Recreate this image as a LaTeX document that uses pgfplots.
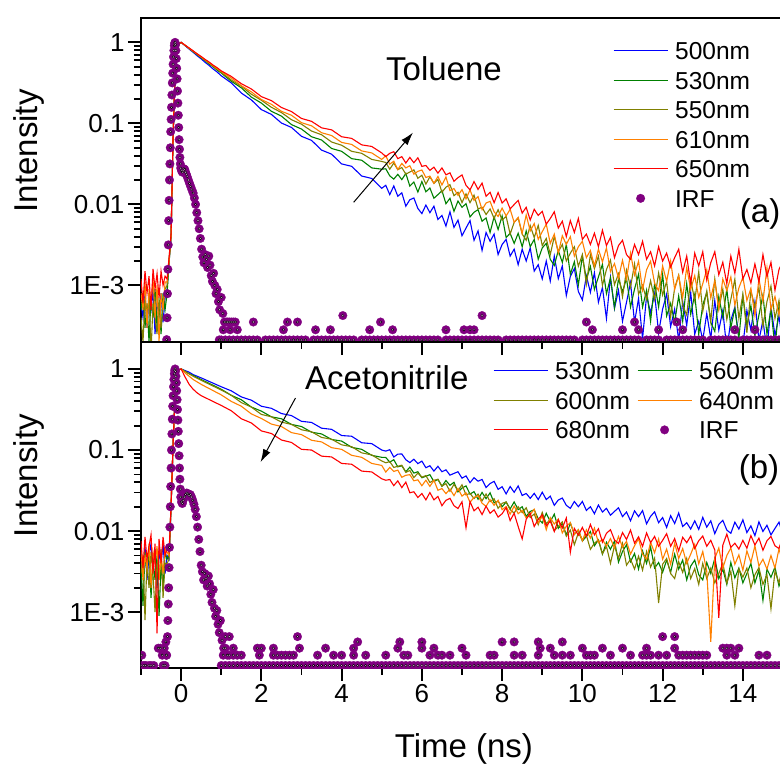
\documentclass[border=0pt]{standalone}
\usepackage{fontspec}
\setmainfont{Liberation Sans}
\usepackage{pgfplots}
\usepackage{pgfplotstable}
\pgfplotsset{compat=1.18}
\usetikzlibrary{plotmarks,arrows.meta}

\definecolor{cblue}{RGB}{0,0,255}
\definecolor{cgreen}{RGB}{0,128,0}
\definecolor{colive}{RGB}{128,128,0}
\definecolor{corange}{RGB}{255,128,0}
\definecolor{cred}{RGB}{255,0,0}
\definecolor{cirf}{RGB}{128,0,128}
\definecolor{cirfhi}{RGB}{225,170,225}

% Toluene decays: t, 500nm, 530nm, 550nm, 610nm, 650nm
\pgfplotstableread{
t b g o y r
-1.00 6e-4 5e-4 4e-4 8e-4 1.2e-3
-0.95 4e-4 8e-4 2e-4 5e-4 6e-4
-0.90 8e-4 3e-4 7e-4 1.1e-3 1.5e-3
-0.85 3e-4 6e-4 3.5e-4 3e-4 8e-4
-0.80 7e-4 2e-4 8e-4 9e-4 1.3e-3
-0.75 5e-4 7e-4 1.5e-4 6e-4 5e-4
-0.70 9e-4 4e-4 6e-4 1.2e-3 1.6e-3
-0.65 2.5e-4 9e-4 4e-4 4e-4 9e-4
-0.60 6e-4 3e-4 2.5e-4 1.0e-3 1.4e-3
-0.55 4.5e-4 6e-4 7e-4 2e-4 7e-4
-0.50 8e-4 2.5e-4 3e-4 8e-4 1.5e-3
-0.45 3.5e-4 8e-4 5.5e-4 5e-4 1.0e-3
-0.40 7e-4 5e-4 9e-4 1.1e-3 1.3e-3
-0.35 9e-4 8e-4 1.0e-3 1.1e-3 1.2e-3
-0.30 2.0e-3 1.9e-3 2.1e-3 2.0e-3 2.2e-3
-0.25 4.0e-3 4.0e-3 4.3e-3 4.1e-3 4.4e-3
-0.20 7.0e-2 7.0e-2 7.2e-2 7.0e-2 7.3e-2
-0.15 0.40 0.40 0.41 0.40 0.41
-0.10 0.82 0.82 0.83 0.82 0.83
-0.05 0.96 0.96 0.97 0.97 0.97
0.00 1.0 1.0 1.0 1.0 1.0
0.1 0.910 0.916 0.918 0.921 0.923
0.2 0.826 0.841 0.843 0.846 0.853
0.3 0.755 0.767 0.776 0.779 0.787
0.4 0.683 0.707 0.709 0.720 0.722
0.5 0.626 0.644 0.655 0.659 0.670
0.6 0.566 0.594 0.598 0.610 0.615
0.7 0.518 0.540 0.553 0.558 0.571
0.8 0.468 0.499 0.504 0.517 0.523
0.9 0.430 0.453 0.467 0.472 0.486
1.0 0.387 0.419 0.425 0.439 0.445
1.25 0.316 0.331 0.343 0.363 0.380
1.50 0.237 0.275 0.288 0.292 0.309
1.75 0.195 0.211 0.229 0.245 0.266
2.00 0.148 0.178 0.193 0.197 0.214
2.25 0.129 0.141 0.158 0.172 0.191
2.50 0.101 0.123 0.136 0.141 0.157
2.75 0.0891 0.0966 0.111 0.126 0.140
3.00 0.0692 0.0851 0.0977 0.102 0.115
3.25 0.0617 0.0684 0.0804 0.0933 0.106
3.50 0.0468 0.0624 0.0724 0.0767 0.0881
3.75 0.0417 0.0490 0.0589 0.0708 0.0832
4.00 0.0316 0.0452 0.0537 0.0582 0.0684
4.25 0.0295 0.0367 0.0452 0.0550 0.0653
4.50 0.0224 0.0351 0.0427 0.0457 0.0543
4.75 0.0209 0.0282 0.0359 0.0432 0.0519
5.00 0.0158 0.0272 0.0339 0.0359 0.0432
5.1 1.72e-2 2.75e-2 3.29e-2 3.99e-2 3.89e-2
5.2 1.32e-2 2.25e-2 2.72e-2 3.14e-2 4.27e-2
5.3 1.69e-2 2.05e-2 3.24e-2 3.41e-2 4.47e-2
5.4 1.26e-2 2.35e-2 2.68e-2 2.69e-2 3.67e-2
5.5 1.39e-2 2.02e-2 2.85e-2 3.20e-2 3.89e-2
5.6 9.5e-3 2.41e-2 2.36e-2 2.82e-2 3.24e-2
5.7 1.14e-2 1.68e-2 2.51e-2 3.00e-2 3.80e-2
5.8 1.20e-2 1.89e-2 2.67e-2 2.36e-2 3.27e-2
5.9 8.9e-3 1.42e-2 2.10e-2 2.56e-2 3.76e-2
6.0 7.7e-3 1.91e-2 2.29e-2 2.66e-2 2.95e-2
6.1 9.8e-3 1.43e-2 1.78e-2 2.15e-2 3.02e-2
6.2 7.9e-3 1.59e-2 2.19e-2 2.23e-2 2.63e-2
6.3 9.5e-3 1.19e-2 1.82e-2 1.82e-2 2.88e-2
6.4 6.5e-3 1.32e-2 2.03e-2 2.21e-2 2.43e-2
6.5 7.3e-3 1.48e-2 1.41e-2 1.74e-2 2.82e-2
6.6 5.4e-3 1.02e-2 1.63e-2 2.18e-2 2.32e-2
6.7 8.1e-3 1.19e-2 1.75e-2 1.48e-2 2.45e-2
6.8 5.2e-3 8.2e-3 1.28e-2 1.57e-2 1.93e-2
6.9 6.4e-3 1.10e-2 1.41e-2 1.29e-2 2.14e-2
7.0 4.1e-3 9.2e-3 1.05e-2 1.52e-2 2.31e-2
7.1 5.1e-3 1.02e-2 1.35e-2 1.17e-2 1.72e-2
7.2 6.3e-3 7.0e-3 1.05e-2 1.51e-2 1.51e-2
7.3 3.6e-3 8.0e-3 1.30e-2 1.12e-2 1.91e-2
7.4 4.7e-3 8.6e-3 8.8e-3 1.25e-2 1.53e-2
7.5 2.7e-3 6.2e-3 9.2e-3 8.6e-3 1.83e-2
7.6 4.5e-3 6.8e-3 7.5e-3 1.04e-2 1.26e-2
7.7 3.5e-3 4.5e-3 8.8e-3 1.09e-2 1.41e-2
7.8 4.3e-3 7.0e-3 6.7e-3 8.1e-3 1.05e-2
7.9 2.4e-3 4.9e-3 8.6e-3 7.1e-3 1.40e-2
8.0 3.2e-3 7.2e-3 6.4e-3 9.0e-3 1.04e-2
8.1 3.7e-3 3.9e-3 7.1e-3 7.2e-3 1.17e-2
8.2 2.3e-3 4.4e-3 4.3e-3 8.7e-3 8.8e-3
8.3 2.8e-3 3.3e-3 6.0e-3 6.0e-3 9.95e-3
8.4 1.8e-3 4.4e-3 6.8e-3 6.9e-3 1.12e-2
8.5 2.8e-3 3.0e-3 4.3e-3 4.4e-3 7.8e-3
8.6 2.0e-3 4.7e-3 3.6e-3 7.4e-3 9.2e-3
8.7 2.9e-3 3.0e-3 5.5e-3 4.7e-3 6.4e-3
8.8 1.5e-3 3.7e-3 3.9e-3 5.8e-3 8.7e-3
8.9 1.8e-3 2.1e-3 5.5e-3 3.7e-3 7.3e-3
9.0 1.2e-3 2.9e-3 3.1e-3 4.6e-3 8.2e-3
9.1 2.0e-3 3.3e-3 3.8e-3 5.7e-3 5.7e-3
9.2 1.13e-3 2.1e-3 2.4e-3 3.3e-3 6.7e-3
9.3 2.3e-3 1.76e-3 4.0e-3 4.3e-3 8.1e-3
9.4 1.21e-3 2.7e-3 2.6e-3 2.5e-3 5.1e-3
9.5 1.74e-3 1.92e-3 3.2e-3 4.1e-3 6.2e-3
9.6 7.5e-4 3.2e-3 2.0e-3 3.2e-3 4.0e-3
9.7 1.29e-3 1.37e-3 2.5e-3 4.0e-3 6.3e-3
9.8 1.61e-3 1.96e-3 3.0e-3 2.3e-3 4.5e-3
9.9 8.4e-4 1.01e-3 1.72e-3 3.0e-3 6.7e-3
10.0 6.6e-4 2.3e-3 2.4e-3 3.5e-3 3.7e-3
10.1 1.31e-3 1.19e-3 1.04e-3 2.2e-3 4.3e-3
10.2 8.2e-4 1.71e-3 2.4e-3 2.7e-3 3.2e-3
10.3 1.43e-3 8.9e-4 1.61e-3 1.74e-3 4.4e-3
10.4 6.2e-4 1.27e-3 2.3e-3 2.8e-3 3.0e-3
10.5 9.4e-4 1.82e-3 1.00e-3 1.95e-3 4.8e-3
10.6 3.9e-4 7.9e-4 1.57e-3 2.9e-3 3.1e-3
10.7 1.25e-3 1.24e-3 2.05e-3 1.48e-3 3.9e-3
10.8 5.2e-4 5.3e-4 1.02e-3 1.86e-3 2.2e-3
10.9 8.7e-4 1.21e-3 1.39e-3 1.23e-3 3.1e-3
11.0 3.6e-4 8.3e-4 7.2e-4 2.04e-3 3.6e-3
11.1 6.2e-4 1.22e-3 1.54e-3 1.19e-3 2.4e-3
11.2 1.08e-3 5.4e-4 9.5e-4 2.5e-3 2.1e-3
11.3 3.5e-4 9.0e-4 1.84e-3 1.35e-3 3.2e-3
11.4 6.9e-4 1.37e-3 7.8e-4 1.99e-3 2.4e-3
11.5 2.2e-4 5.4e-4 1.00e-3 8.8e-4 3.5e-3
11.6 7.4e-4 8.7e-4 6.7e-4 1.56e-3 2.1e-3
11.7 4.6e-4 3.6e-4 1.14e-3 1.99e-3 2.6e-3
11.8 7.9e-4 1.06e-3 6.7e-4 1.06e-3 1.74e-3
11.9 2.6e-4 5.4e-4 1.42e-3 8.6e-4 3.0e-3
12.0 5.1e-4 1.37e-3 7.6e-4 1.74e-3 1.99e-3
12.1 7.8e-4 4.2e-4 1.12e-3 1.12e-3 2.5e-3
12.2 3.1e-4 6.0e-4 4.1e-4 2.0e-3 1.68e-3
12.3 5.1e-4 3.5e-4 9.3e-4 8.9e-4 2.2e-3
12.4 2.1e-4 7.4e-4 1.34e-3 1.32e-3 2.8e-3
12.5 6.3e-4 3.6e-4 5.7e-4 7.1e-4 1.45e-3
12.6 3.2e-4 1.05e-3 4.3e-4 1.66e-3 2.3e-3
12.7 8.2e-4 4.4e-4 1.18e-3 8.9e-4 1.05e-3
12.8 2.5e-4 7.7e-4 6.5e-4 1.32e-3 2.5e-3
12.9 3.6e-4 2.5e-4 1.47e-3 7.1e-4 1.74e-3
13.0 2.1e-4 5.7e-4 4.8e-4 1.05e-3 2.6e-3
13.1 4.5e-4 8.2e-4 8.5e-4 1.56e-3 1.16e-3
13.2 2.2e-4 3.5e-4 3.6e-4 7.0e-4 1.91e-3
13.3 6.5e-4 2.7e-4 1.20e-3 1.14e-3 2.6e-3
13.4 2.8e-4 7.3e-4 5.1e-4 5.1e-4 1.35e-3
13.5 4.9e-4 4.0e-4 9.0e-4 1.20e-3 1.93e-3
13.6 1.6e-4 9.1e-4 3.8e-4 8.6e-4 1.05e-3
13.7 3.7e-4 3.0e-4 6.7e-4 1.27e-3 2.3e-3
13.8 5.4e-4 5.2e-4 1.19e-3 5.7e-4 1.41e-3
13.9 2.3e-4 2.2e-4 3.9e-4 9.3e-4 2.8e-3
14.0 1.8e-4 7.4e-4 7.8e-4 1.26e-3 1.20e-3
14.1 4.9e-4 3.2e-4 2.6e-4 6.5e-4 1.57e-3
14.2 2.8e-4 5.6e-4 8.6e-4 9.2e-4 1.07e-3
14.3 6.3e-4 2.4e-4 5.4e-4 4.2e-4 1.84e-3
14.4 2.1e-4 4.3e-4 9.5e-4 1.22e-3 1.10e-3
14.5 3.7e-4 7.6e-4 3.1e-4 6.3e-4 2.4e-3
14.6 1.6e-4 2.5e-4 6.3e-4 1.64e-3 1.29e-3
14.7 5.5e-4 5.1e-4 9.8e-4 5.0e-4 1.93e-3
14.8 2.4e-4 1.7e-4 3.9e-4 7.3e-4 8.7e-4
14.9 4.2e-4 5.6e-4 6.5e-4 4.3e-4 1.57e-3
15.0 1.8e-4 3.6e-4 2.8e-4 9.2e-4 2.0e-3
}\toptab

% Acetonitrile decays: t, 530nm, 560nm, 600nm, 640nm, 680nm
\pgfplotstableread{
t b g o y r
-1.00 5.5e-3 4.0e-3 3.0e-3 6.0e-3 7.5e-3
-0.95 3.0e-3 1.2e-3 5.0e-3 2.5e-3 3.5e-3
-0.90 6.5e-3 5.5e-3 8e-4 5.0e-3 8.5e-3
-0.85 2.5e-3 3.0e-3 4.5e-3 3.5e-3 4.5e-3
-0.80 5.0e-3 6.0e-3 2.0e-3 7.0e-3 6.5e-3
-0.75 7.0e-3 1.5e-3 5.5e-3 2.0e-3 9.0e-3
-0.70 3.5e-3 4.5e-3 3.0e-3 5.5e-3 3.0e-3
-0.65 6.0e-3 2.5e-3 1.0e-3 4.0e-3 7.0e-3
-0.60 2.0e-3 5.0e-3 4.0e-3 6.5e-3 5.5e-4
-0.55 5.5e-3 9e-4 2.5e-3 2.5e-3 8.0e-3
-0.50 4.0e-3 4.0e-3 6.0e-3 5.0e-3 4.0e-3
-0.45 7.0e-3 2.0e-3 1.5e-3 3.0e-3 8.5e-3
-0.40 3.0e-3 5.5e-3 4.0e-3 6.0e-3 5.0e-3
-0.35 5.0e-3 4.5e-3 4.0e-3 5.5e-3 6.0e-3
-0.30 4.5e-3 5.0e-3 4.5e-3 5.0e-3 5.5e-3
-0.25 2.0e-2 2.1e-2 2.0e-2 2.2e-2 2.1e-2
-0.20 0.12 0.12 0.12 0.12 0.12
-0.15 0.50 0.50 0.50 0.50 0.50
-0.10 0.88 0.88 0.88 0.88 0.88
-0.05 0.98 0.98 0.98 0.98 0.97
0.00 1.0 1.0 1.0 1.0 1.0
0.1 0.955 0.933 0.933 0.891 0.794
0.2 0.912 0.871 0.871 0.813 0.646
0.3 0.851 0.832 0.813 0.741 0.562
0.4 0.813 0.785 0.767 0.692 0.507
0.5 0.776 0.741 0.724 0.646 0.468
0.6 0.738 0.701 0.685 0.608 0.443
0.7 0.701 0.664 0.649 0.573 0.419
0.8 0.667 0.628 0.614 0.540 0.396
0.9 0.634 0.594 0.581 0.508 0.375
1.0 0.603 0.562 0.550 0.479 0.355
1.25 0.537 0.473 0.473 0.398 0.305
1.50 0.452 0.417 0.385 0.347 0.243
1.75 0.412 0.339 0.339 0.279 0.216
2.00 0.347 0.302 0.275 0.245 0.172
2.25 0.327 0.257 0.257 0.209 0.160
2.50 0.282 0.243 0.221 0.195 0.133
2.75 0.266 0.207 0.207 0.164 0.124
3.00 0.226 0.195 0.178 0.155 0.102
3.25 0.219 0.166 0.168 0.132 0.100
3.50 0.186 0.158 0.143 0.126 0.0841
3.75 0.180 0.135 0.136 0.107 0.0822
4.00 0.151 0.129 0.116 0.102 0.0684
4.25 0.148 0.108 0.110 0.0861 0.0668
4.50 0.123 0.102 0.0923 0.0813 0.0550
4.75 0.120 0.0861 0.0871 0.0684 0.0537
5.00 0.100 0.0813 0.0733 0.0646 0.0442
5.1 9.7e-2 8.1e-2 6.97e-2 5.35e-2 4.24e-2
5.2 0.101 7.1e-2 7.2e-2 6.1e-2 4.33e-2
5.3 8.2e-2 7.6e-2 6.1e-2 5.45e-2 3.64e-2
5.4 8.9e-2 6.2e-2 6.3e-2 5.65e-2 4.17e-2
5.5 8.95e-2 6.4e-2 6.5e-2 4.61e-2 3.44e-2
5.6 7.6e-2 5.4e-2 5.3e-2 4.88e-2 4.02e-2
5.7 7.0e-2 6.15e-2 5.6e-2 4.97e-2 2.97e-2
5.8 7.7e-2 5.2e-2 4.57e-2 4.17e-2 3.06e-2
5.9 6.8e-2 5.4e-2 5.2e-2 4.29e-2 2.6e-2
6.0 7.3e-2 4.55e-2 4.63e-2 3.63e-2 2.91e-2
6.1 6.05e-2 4.75e-2 4.84e-2 4.24e-2 2.43e-2
6.2 6.4e-2 4.97e-2 3.98e-2 3.56e-2 2.99e-2
6.3 5.5e-2 4.08e-2 4.24e-2 4.24e-2 2.43e-2
6.4 6.3e-2 4.35e-2 4.35e-2 3.19e-2 2.68e-2
6.5 5.4e-2 3.57e-2 3.59e-2 3.35e-2 2.06e-2
6.6 5.7e-2 4.21e-2 3.85e-2 2.9e-2 2.4e-2
6.7 4.9e-2 3.67e-2 3.1e-2 3.3e-2 2.54e-2
6.8 5.15e-2 4.0e-2 3.77e-2 2.74e-2 2.06e-2
6.9 5.4e-2 3.04e-2 3.16e-2 3.35e-2 1.90e-2
7.0 4.5e-2 3.40e-2 3.73e-2 2.7e-2 2.3e-2
7.1 4.8e-2 3.61e-2 2.8e-2 2.96e-2 1.1e-2
7.2 3.96e-2 2.86e-2 2.92e-2 2.26e-2 2.31e-2
7.3 4.56e-2 3.07e-2 2.52e-2 2.61e-2 1.78e-2
7.4 4.13e-2 2.47e-2 2.86e-2 2.74e-2 1.97e-2
7.5 4.34e-2 3.0e-2 2.36e-2 2.21e-2 1.60e-2
7.6 3.44e-2 2.51e-2 2.87e-2 2.02e-2 2.03e-2
7.7 3.86e-2 2.97e-2 2.31e-2 2.44e-2 1.66e-2
7.8 4.11e-2 2.23e-2 2.51e-2 2.08e-2 1.83e-2
7.9 3.27e-2 2.33e-2 1.91e-2 2.4e-2 1.49e-2
8.0 3.53e-2 2.0e-2 2.2e-2 1.84e-2 1.64e-2
8.1 2.88e-2 2.28e-2 2.29e-2 2.01e-2 1.95e-2
8.2 3.55e-2 1.88e-2 1.84e-2 1.62e-2 1.35e-2
8.3 3.01e-2 2.29e-2 1.67e-2 2.04e-2 1.66e-2
8.4 3.61e-2 1.84e-2 2.0e-2 1.64e-2 1.14e-2
8.5 2.75e-2 2.0e-2 1.69e-2 1.80e-2 8.0e-3
8.6 2.91e-2 1.52e-2 1.94e-2 1.45e-2 1.40e-2
8.7 2.54e-2 1.75e-2 1.47e-2 1.60e-2 1.66e-2
8.8 2.92e-2 1.83e-2 1.63e-2 1.86e-2 1.14e-2
8.9 2.45e-2 1.42e-2 1.20e-2 1.26e-2 1.40e-2
9.0 3.02e-2 1.26e-2 1.70e-2 1.53e-2 1.59e-2
9.1 2.45e-2 1.66e-2 1.23e-2 1.04e-2 1.16e-2
9.2 2.70e-2 1.31e-2 1.40e-2 1.47e-2 1.33e-2
9.3 2.08e-2 1.62e-2 1.01e-2 1.22e-2 9.9e-3
9.4 2.42e-2 1.08e-2 1.15e-2 1.41e-2 1.38e-2
9.5 2.56e-2 1.24e-2 1.30e-2 9.5e-3 1.09e-2
9.6 2.08e-2 8.95e-3 8.65e-3 1.15e-2 1.45e-2
9.7 1.91e-2 1.26e-2 1.03e-2 1.27e-2 5.5e-3
9.8 2.32e-2 9.1e-3 6.8e-3 9.1e-3 1.08e-2
9.9 2.0e-2 1.04e-2 9.5e-3 1.04e-2 8.9e-3
10.0 2.32e-2 7.55e-3 7.8e-3 7.6e-3 1.11e-2
10.1 1.80e-2 8.6e-3 8.9e-3 1.04e-2 8.7e-3
10.2 2.0e-2 9.9e-3 5.96e-3 8.2e-3 1.21e-2
10.3 1.64e-2 6.6e-3 7.1e-3 1.09e-2 9.0e-3
10.4 2.10e-2 7.8e-3 7.8e-3 7.2e-3 1.07e-2
10.5 1.72e-2 5.2e-3 5.25e-3 7.9e-3 7.3e-3
10.6 1.91e-2 7.3e-3 6.5e-3 6.5e-3 9.4e-3
10.7 1.57e-2 5.96e-3 4.0e-3 8.1e-3 1.04e-2
10.8 1.75e-2 7.55e-3 6.6e-3 6.2e-3 7.8e-3
10.9 1.94e-2 4.14e-3 4.6e-3 8.6e-3 7.05e-3
11.0 1.51e-2 5.6e-3 7.05e-3 6.35e-3 9.6e-3
11.1 1.72e-2 6.8e-3 3.8e-3 7.5e-3 7.9e-3
11.2 1.34e-2 4.2e-3 4.5e-3 5.2e-3 1.03e-2
11.3 1.78e-2 5.3e-3 3.4e-3 6.6e-3 7.1e-3
11.4 1.51e-2 3.4e-3 4.9e-3 8.05e-3 8.5e-3
11.5 1.79e-2 5.7e-3 3.3e-3 5.2e-3 6.5e-3
11.6 1.23e-2 4.0e-3 5.6e-3 4.5e-3 9.5e-3
11.7 1.52e-2 6.4e-3 3.6e-3 7.3e-3 7.2e-3
11.8 1.73e-2 3.5e-3 4.65e-3 5.4e-3 8.6e-3
11.9 1.27e-2 4.1e-3 1.3e-3 8.0e-3 6.5e-3
12.0 1.47e-2 3.1e-3 3.9e-3 4.5e-3 7.7e-3
12.1 1.11e-2 4.4e-3 4.6e-3 6.0e-3 9.3e-3
12.2 1.55e-2 3.1e-3 3.0e-3 3.9e-3 6.5e-3
12.3 1.24e-2 5.2e-3 2.6e-3 7.1e-3 8.1e-3
12.4 1.67e-2 3.4e-3 4.2e-3 4.6e-3 5.7e-3
12.5 1.14e-2 4.4e-3 3.1e-3 6.1e-3 8.4e-3
12.6 1.27e-2 2.5e-3 4.6e-3 4.0e-3 7.2e-3
12.7 1.06e-2 3.7e-3 2.6e-3 5.2e-3 8.7e-3
12.8 1.34e-2 4.4e-3 3.45e-3 6.9e-3 6.1e-3
12.9 1.05e-2 2.9e-3 2.2e-3 3.95e-3 7.6e-3
13.0 1.48e-2 2.5e-3 4.0e-3 5.6e-3 8.7e-3
13.1 1.12e-2 4.1e-3 2.6e-3 3.2e-3 6.5e-3
13.2 1.34e-2 3.0e-3 3.5e-3 4.3e-4 7.7e-3
13.3 9.3e-3 4.6e-3 2.3e-3 4.6e-3 5.85e-3
13.4 1.21e-2 2.6e-3 3.0e-3 6.2e-3 8.5e-4
13.5 1.36e-2 3.4e-3 4.0e-3 3.5e-3 6.7e-3
13.6 1.03e-2 2.2e-3 2.3e-3 5.0e-3 9.2e-3
13.7 9.4e-3 4.1e-3 3.2e-3 6.2e-3 6.3e-3
13.8 1.29e-2 2.65e-3 1.2e-3 3.9e-3 7.1e-3
13.9 1.06e-2 3.5e-3 3.4e-3 5.1e-3 6.0e-3
14.0 1.38e-2 2.3e-3 2.7e-3 3.3e-3 7.7e-3
14.1 9.6e-3 3.0e-3 3.5e-3 5.7e-3 6.15e-3
14.2 1.16e-2 4.0e-3 2.0e-3 4.1e-3 8.8e-3
14.3 8.8e-3 2.3e-3 2.9e-3 6.6e-3 6.75e-3
14.4 1.30e-2 3.3e-3 3.55e-3 3.7e-3 8.2e-3
14.5 9.9e-3 1.4e-3 2.2e-3 4.5e-3 5.8e-3
14.6 1.18e-2 3.4e-3 2.9e-3 3.4e-3 7.6e-3
14.7 9.0e-3 2.7e-3 1.1e-3 5.0e-3 8.6e-3
14.8 1.08e-2 3.6e-3 3.2e-3 3.5e-3 6.6e-3
14.9 1.29e-2 2.1e-3 2.3e-3 6.05e-3 6.1e-3
15.0 9.1e-3 2.9e-3 3.7e-3 4.0e-3 8.6e-3
}\bottab

% IRF, toluene panel
\pgfplotstableread[row sep=\\]{
x y\\
-0.36 2.14e-4\\ -0.35 3.98e-4\\ -0.34 7.9e-4\\ -0.33 1.58e-3\\ -0.32 3.16e-3\\ -0.31 6.3e-3\\
-0.30 1.12e-2\\ -0.29 2.0e-2\\ -0.28 3.16e-2\\ -0.27 5.0e-2\\ -0.26 7.9e-2\\ -0.25 0.112\\
-0.24 0.158\\ -0.23 0.224\\ -0.22 0.316\\ -0.21 0.417\\ -0.20 0.537\\ -0.19 0.661\\
-0.18 0.794\\ -0.17 0.912\\ -0.16 0.977\\ -0.15 1.0\\ -0.14 0.933\\ -0.13 0.794\\
-0.12 0.631\\ -0.11 0.479\\ -0.10 0.355\\ -0.09 0.251\\ -0.08 0.178\\ -0.07 0.126\\
-0.06 8.9e-2\\ -0.05 6.3e-2\\ -0.04 4.8e-2\\ -0.03 3.8e-2\\ -0.02 3.16e-2\\ -0.01 2.8e-2\\
0.01 2.6e-2\\ 0.03 2.5e-2\\ 0.05 2.6e-2\\ 0.07 2.75e-2\\ 0.09 2.7e-2\\ 0.11 2.5e-2\\
0.13 2.35e-2\\ 0.15 2.2e-2\\ 0.18 2.0e-2\\ 0.21 1.82e-2\\ 0.24 1.66e-2\\ 0.27 1.51e-2\\
0.30 1.38e-2\\ 0.33 1.2e-2\\ 0.36 1.0e-2\\ 0.39 7.9e-3\\ 0.42 6.3e-3\\ 0.45 5.0e-3\\
0.48 3.8e-3\\ 0.51 2.8e-3\\ 0.54 2.24e-3\\ 0.57 1.9e-3\\ 0.60 2.4e-3\\ 0.63 2.1e-3\\
0.66 1.66e-3\\ 0.69 2.3e-3\\ 0.72 1.78e-3\\ 0.75 1.32e-3\\ 0.78 1.12e-3\\ 0.81 1.41e-3\\
0.84 1.0e-3\\ 0.87 7.9e-4\\ 0.90 8.9e-4\\ 0.93 6.3e-4\\ 0.96 5.0e-4\\ 1.00 7.1e-4\\
1.04 4.5e-4\\ 1.08 3.53e-4\\
1.12 3.53e-4\\ 1.16 3.53e-4\\ 1.20 3.53e-4\\ 1.25 3.53e-4\\ 1.30 3.53e-4\\ 1.35 3.53e-4\\
1.80 3.53e-4\\ 2.65 3.53e-4\\ 2.90 3.53e-4\\ 4.97 3.53e-4\\ 10.1 3.53e-4\\ 11.3 3.53e-4\\ 12.35 3.53e-4\\
1.05 2.83e-4\\ 1.22 2.83e-4\\ 1.40 2.83e-4\\ 2.55 2.83e-4\\ 3.35 2.83e-4\\ 3.72 2.83e-4\\
4.70 2.83e-4\\ 5.27 2.83e-4\\ 6.60 2.83e-4\\ 7.05 2.83e-4\\ 7.20 2.83e-4\\ 7.30 2.83e-4\\
10.25 2.83e-4\\ 11.0 2.83e-4\\ 11.4 2.83e-4\\ 11.9 2.83e-4\\ 12.5 2.83e-4\\ 13.8 2.83e-4\\ 14.3 2.83e-4\\
4.03 4.24e-4\\ 7.50 4.24e-4\\
0.95 2.12e-4\\ 1.0 2.12e-4\\ 1.1 2.12e-4\\ 1.2 2.12e-4\\ 1.3 2.12e-4\\ 1.4 2.12e-4\\ 1.5 2.12e-4\\
1.6 2.12e-4\\ 1.7 2.12e-4\\ 1.8 2.12e-4\\ 1.9 2.12e-4\\ 2.1 2.12e-4\\ 2.2 2.12e-4\\ 2.3 2.12e-4\\
2.4 2.12e-4\\ 2.5 2.12e-4\\ 2.6 2.12e-4\\ 2.7 2.12e-4\\ 2.8 2.12e-4\\ 2.9 2.12e-4\\ 3.0 2.12e-4\\
3.1 2.12e-4\\ 3.3 2.12e-4\\ 3.4 2.12e-4\\ 3.5 2.12e-4\\ 3.6 2.12e-4\\ 3.7 2.12e-4\\ 3.8 2.12e-4\\
3.9 2.12e-4\\ 4.0 2.12e-4\\ 4.1 2.12e-4\\ 4.2 2.12e-4\\ 4.3 2.12e-4\\ 4.5 2.12e-4\\ 4.6 2.12e-4\\
4.7 2.12e-4\\ 4.8 2.12e-4\\ 4.9 2.12e-4\\ 5.0 2.12e-4\\ 5.1 2.12e-4\\ 5.2 2.12e-4\\ 5.3 2.12e-4\\
5.4 2.12e-4\\ 5.5 2.12e-4\\ 5.6 2.12e-4\\ 5.7 2.12e-4\\ 5.8 2.12e-4\\ 5.9 2.12e-4\\ 6.0 2.12e-4\\
6.1 2.12e-4\\ 6.2 2.12e-4\\ 6.3 2.12e-4\\ 6.4 2.12e-4\\ 6.6 2.12e-4\\ 6.7 2.12e-4\\ 6.8 2.12e-4\\
6.9 2.12e-4\\ 7.0 2.12e-4\\ 7.1 2.12e-4\\ 7.2 2.12e-4\\ 7.3 2.12e-4\\ 7.4 2.12e-4\\ 7.5 2.12e-4\\
7.6 2.12e-4\\ 7.7 2.12e-4\\ 7.8 2.12e-4\\ 7.9 2.12e-4\\ 8.1 2.12e-4\\ 8.2 2.12e-4\\ 8.3 2.12e-4\\
8.4 2.12e-4\\ 8.5 2.12e-4\\ 8.6 2.12e-4\\ 8.7 2.12e-4\\ 8.8 2.12e-4\\ 8.9 2.12e-4\\ 9.0 2.12e-4\\
9.1 2.12e-4\\ 9.2 2.12e-4\\ 9.3 2.12e-4\\ 9.4 2.12e-4\\ 9.5 2.12e-4\\ 9.6 2.12e-4\\ 9.7 2.12e-4\\
9.8 2.12e-4\\ 10.0 2.12e-4\\ 10.1 2.12e-4\\ 10.2 2.12e-4\\ 10.3 2.12e-4\\ 10.4 2.12e-4\\ 10.5 2.12e-4\\
10.6 2.12e-4\\ 10.7 2.12e-4\\ 10.8 2.12e-4\\ 10.9 2.12e-4\\ 11.0 2.12e-4\\ 11.1 2.12e-4\\ 11.2 2.12e-4\\
11.3 2.12e-4\\ 11.4 2.12e-4\\ 11.6 2.12e-4\\ 11.7 2.12e-4\\ 11.8 2.12e-4\\ 11.9 2.12e-4\\ 12.1 2.12e-4\\
12.2 2.12e-4\\ 12.3 2.12e-4\\ 12.4 2.12e-4\\ 12.5 2.12e-4\\ 12.6 2.12e-4\\ 12.7 2.12e-4\\ 12.8 2.12e-4\\
12.9 2.12e-4\\ 13.0 2.12e-4\\ 13.2 2.12e-4\\ 13.3 2.12e-4\\ 13.4 2.12e-4\\ 13.5 2.12e-4\\ 13.6 2.12e-4\\
13.7 2.12e-4\\ 13.8 2.12e-4\\ 14.0 2.12e-4\\ 14.1 2.12e-4\\ 14.2 2.12e-4\\ 14.3 2.12e-4\\ 14.4 2.12e-4\\
14.5 2.12e-4\\ 14.6 2.12e-4\\ 14.7 2.12e-4\\ 14.8 2.12e-4\\ 14.9 2.12e-4\\ 15.0 2.12e-4\\
}\irftop

% IRF, acetonitrile panel
\pgfplotstableread[row sep=\\]{
x y\\
-0.36 2.95e-4\\ -0.34 5.0e-4\\ -0.33 7.9e-4\\ -0.32 1.26e-3\\ -0.31 2.0e-3\\ -0.30 3.55e-3\\
-0.29 6.3e-3\\ -0.28 1.12e-2\\ -0.27 2.0e-2\\ -0.26 3.55e-2\\ -0.25 6.0e-2\\ -0.24 0.1\\
-0.23 0.158\\ -0.22 0.24\\ -0.21 0.347\\ -0.20 0.468\\ -0.19 0.603\\ -0.18 0.741\\
-0.17 0.871\\ -0.16 0.955\\ -0.15 1.0\\ -0.14 0.933\\ -0.13 0.813\\ -0.12 0.676\\
-0.11 0.537\\ -0.10 0.417\\ -0.09 0.316\\ -0.08 0.234\\ -0.07 0.170\\ -0.06 0.120\\
-0.05 8.5e-2\\ -0.04 6.0e-2\\ -0.03 4.37e-2\\ -0.02 3.3e-2\\ -0.01 2.63e-2\\ 0.01 2.29e-2\\
0.03 2.19e-2\\ 0.05 2.4e-2\\ 0.08 2.63e-2\\ 0.11 2.82e-2\\ 0.14 2.95e-2\\ 0.17 2.88e-2\\
0.20 2.75e-2\\ 0.23 2.82e-2\\ 0.26 2.63e-2\\ 0.29 2.4e-2\\ 0.32 2.14e-2\\ 0.35 1.86e-2\\
0.38 1.51e-2\\ 0.41 1.12e-2\\ 0.44 7.9e-3\\ 0.47 5.6e-3\\ 0.50 3.8e-3\\ 0.53 3.16e-3\\
0.56 2.5e-3\\ 0.59 3.0e-3\\ 0.62 2.6e-3\\ 0.65 2.1e-3\\ 0.68 2.8e-3\\ 0.71 2.24e-3\\
0.74 1.66e-3\\ 0.77 1.32e-3\\ 0.80 1.9e-3\\ 0.83 1.12e-3\\ 0.86 8.9e-4\\ 0.89 1.05e-3\\
0.92 7.1e-4\\ 0.95 5.6e-4\\ 0.98 7.9e-4\\ 1.02 4.5e-4\\ 1.06 3.6e-4\\ 1.10 5.0e-4\\
-0.98 2.95e-4\\ -0.57 3.6e-4\\ -0.52 3.6e-4\\ -0.47 2.95e-4\\ -0.42 3.6e-4\\ -0.38 4.3e-4\\ -0.37 2.95e-4\\
-1.0 2.2e-4\\ -0.93 2.2e-4\\ -0.88 2.2e-4\\ -0.80 2.2e-4\\ -0.75 2.2e-4\\ -0.68 2.2e-4\\ -0.45 2.2e-4\\ -0.40 2.2e-4\\
1.05 2.95e-4\\ 1.15 2.95e-4\\ 1.2 2.95e-4\\ 1.3 2.95e-4\\ 1.4 2.95e-4\\ 1.5 2.95e-4\\ 1.95 2.95e-4\\
2.3 2.95e-4\\ 2.4 2.95e-4\\ 2.5 2.95e-4\\ 2.6 2.95e-4\\ 2.7 2.95e-4\\ 2.8 2.95e-4\\ 3.4 2.95e-4\\
3.8 2.95e-4\\ 4.0 2.95e-4\\ 4.3 2.95e-4\\ 4.6 2.95e-4\\ 5.1 2.95e-4\\ 5.55 2.95e-4\\ 5.65 2.95e-4\\
6.2 2.95e-4\\ 6.4 2.95e-4\\ 6.5 2.95e-4\\ 6.7 2.95e-4\\ 7.1 2.95e-4\\ 7.7 2.95e-4\\ 7.8 2.95e-4\\
8.3 2.95e-4\\ 8.5 2.95e-4\\ 8.9 2.95e-4\\ 9.3 2.95e-4\\ 9.5 2.95e-4\\ 9.7 2.95e-4\\ 10.1 2.95e-4\\
10.2 2.95e-4\\ 10.3 2.95e-4\\ 10.7 2.95e-4\\ 11.2 2.95e-4\\ 11.5 2.95e-4\\ 11.6 2.95e-4\\ 11.7 2.95e-4\\
11.9 2.95e-4\\ 12.1 2.95e-4\\ 12.4 2.95e-4\\ 12.5 2.95e-4\\ 12.6 2.95e-4\\ 12.7 2.95e-4\\ 12.8 2.95e-4\\
12.9 2.95e-4\\ 13.0 2.95e-4\\ 13.1 2.95e-4\\ 13.6 2.95e-4\\ 13.8 2.95e-4\\ 14.4 2.95e-4\\ 14.6 2.95e-4\\
1.1 3.6e-4\\ 1.3 3.6e-4\\ 1.9 3.6e-4\\ 2.0 3.6e-4\\ 2.3 3.6e-4\\ 2.95 3.6e-4\\ 3.6 3.6e-4\\
4.3 3.6e-4\\ 5.4 3.6e-4\\ 6.0 3.6e-4\\ 6.3 3.6e-4\\ 7.0 3.6e-4\\ 8.95 3.6e-4\\ 9.2 3.6e-4\\
10.0 3.6e-4\\ 10.5 3.6e-4\\ 11.0 3.6e-4\\ 11.6 3.6e-4\\ 12.3 3.6e-4\\ 13.5 3.6e-4\\ 13.6 3.6e-4\\
13.7 3.6e-4\\ 13.9 3.6e-4\\
4.4 4.3e-4\\ 5.45 4.3e-4\\ 6.0 4.3e-4\\ 8.0 4.3e-4\\ 8.3 4.3e-4\\ 8.9 4.3e-4\\ 9.5 4.3e-4\\
1.2 5.0e-4\\ 2.9 5.0e-4\\ 12.0 5.0e-4\\ 12.3 5.0e-4\\
1.0 2.2e-4\\ 1.1 2.2e-4\\ 1.2 2.2e-4\\ 1.3 2.2e-4\\ 1.4 2.2e-4\\ 1.5 2.2e-4\\ 1.6 2.2e-4\\
1.7 2.2e-4\\ 1.8 2.2e-4\\ 1.9 2.2e-4\\ 2.0 2.2e-4\\ 2.1 2.2e-4\\ 2.2 2.2e-4\\ 2.3 2.2e-4\\
2.4 2.2e-4\\ 2.5 2.2e-4\\ 2.6 2.2e-4\\ 2.7 2.2e-4\\ 2.8 2.2e-4\\ 2.9 2.2e-4\\ 3.0 2.2e-4\\
3.1 2.2e-4\\ 3.2 2.2e-4\\ 3.3 2.2e-4\\ 3.4 2.2e-4\\ 3.5 2.2e-4\\ 3.6 2.2e-4\\ 3.7 2.2e-4\\
3.8 2.2e-4\\ 3.9 2.2e-4\\ 4.0 2.2e-4\\ 4.1 2.2e-4\\ 4.2 2.2e-4\\ 4.3 2.2e-4\\ 4.4 2.2e-4\\
4.5 2.2e-4\\ 4.6 2.2e-4\\ 4.7 2.2e-4\\ 4.8 2.2e-4\\ 4.9 2.2e-4\\ 5.0 2.2e-4\\ 5.1 2.2e-4\\
5.2 2.2e-4\\ 5.3 2.2e-4\\ 5.4 2.2e-4\\ 5.5 2.2e-4\\ 5.6 2.2e-4\\ 5.7 2.2e-4\\ 5.8 2.2e-4\\
5.9 2.2e-4\\ 6.0 2.2e-4\\ 6.1 2.2e-4\\ 6.2 2.2e-4\\ 6.3 2.2e-4\\ 6.4 2.2e-4\\ 6.5 2.2e-4\\
6.6 2.2e-4\\ 6.7 2.2e-4\\ 6.8 2.2e-4\\ 6.9 2.2e-4\\ 7.0 2.2e-4\\ 7.1 2.2e-4\\ 7.2 2.2e-4\\
7.3 2.2e-4\\ 7.4 2.2e-4\\ 7.5 2.2e-4\\ 7.6 2.2e-4\\ 7.7 2.2e-4\\ 7.8 2.2e-4\\ 7.9 2.2e-4\\
8.0 2.2e-4\\ 8.1 2.2e-4\\ 8.2 2.2e-4\\ 8.3 2.2e-4\\ 8.4 2.2e-4\\ 8.5 2.2e-4\\ 8.6 2.2e-4\\
8.7 2.2e-4\\ 8.8 2.2e-4\\ 8.9 2.2e-4\\ 9.0 2.2e-4\\ 9.1 2.2e-4\\ 9.2 2.2e-4\\ 9.3 2.2e-4\\
9.4 2.2e-4\\ 9.5 2.2e-4\\ 9.6 2.2e-4\\ 9.7 2.2e-4\\ 9.8 2.2e-4\\ 9.9 2.2e-4\\ 10.0 2.2e-4\\
10.1 2.2e-4\\ 10.2 2.2e-4\\ 10.3 2.2e-4\\ 10.4 2.2e-4\\ 10.5 2.2e-4\\ 10.6 2.2e-4\\ 10.7 2.2e-4\\
10.8 2.2e-4\\ 10.9 2.2e-4\\ 11.0 2.2e-4\\ 11.1 2.2e-4\\ 11.2 2.2e-4\\ 11.3 2.2e-4\\ 11.4 2.2e-4\\
11.5 2.2e-4\\ 11.6 2.2e-4\\ 11.7 2.2e-4\\ 11.8 2.2e-4\\ 11.9 2.2e-4\\ 12.0 2.2e-4\\ 12.1 2.2e-4\\
12.2 2.2e-4\\ 12.3 2.2e-4\\ 12.4 2.2e-4\\ 12.5 2.2e-4\\ 12.6 2.2e-4\\ 12.7 2.2e-4\\ 12.8 2.2e-4\\
12.9 2.2e-4\\ 13.0 2.2e-4\\ 13.1 2.2e-4\\ 13.2 2.2e-4\\ 13.3 2.2e-4\\ 13.4 2.2e-4\\ 13.5 2.2e-4\\
13.6 2.2e-4\\ 13.7 2.2e-4\\ 13.8 2.2e-4\\ 13.9 2.2e-4\\ 14.0 2.2e-4\\ 14.1 2.2e-4\\ 14.2 2.2e-4\\
14.3 2.2e-4\\ 14.4 2.2e-4\\ 14.5 2.2e-4\\ 14.6 2.2e-4\\ 14.7 2.2e-4\\ 14.8 2.2e-4\\ 14.9 2.2e-4\\
15.0 2.2e-4\\
}\irfbot

\pgfplotsset{
  legend image code/.code={\draw[mark repeat=2,mark phase=2,#1] plot coordinates {(0pt,0pt) (27pt,0pt) (54pt,0pt)};},
}

\begin{document}
\begin{tikzpicture}
\path[use as bounding box] (-141pt,-101pt) rectangle (639pt,668pt);

\begin{axis}[
  scale only axis, width=642pt, height=324pt,
  at={(0pt,326pt)}, anchor=south west,
  xmin=-1, xmax=15, ymode=log, ymin=2e-4, ymax=2,
  axis line style={line width=2pt},
  tick style={line width=1.8pt, black},
  major tick length=13pt, minor tick length=7pt,
  tick align=outside, xtick pos=bottom, ytick pos=left,
  xtick={0,2,...,14}, minor xtick={-1,1,...,15}, xticklabel=\empty,
  ytick={1e-3,1e-2,1e-1,1}, yticklabels={1E-3,0.01,0.1,1},
  tick label style={font=\fontsize{26}{28}\selectfont},
  clip marker paths=true,
  ylabel={Intensity},
  ylabel style={font=\fontsize{33}{36}\selectfont, at={(axis description cs:-0.175,0.59)}, anchor=center},
  legend cell align=left,
  legend style={at={(0.735,0.927)}, anchor=north west, draw=none, fill=none, inner sep=0pt, row sep=11.5pt,
    font=\fontsize{24.5}{26}\selectfont,
    nodes={inner sep=0pt, text height=18pt, text depth=0pt},
    column sep=7pt},
]
\addplot[line width=1.1pt, cblue] table[x=t,y=b]{\toptab}; \addlegendentry{500nm}
\addplot[line width=1.1pt, cgreen] table[x=t,y=g]{\toptab}; \addlegendentry{530nm}
\addplot[line width=1.1pt, colive] table[x=t,y=o]{\toptab}; \addlegendentry{550nm}
\addplot[line width=1.1pt, corange] table[x=t,y=y]{\toptab}; \addlegendentry{610nm}
\addplot[line width=1.1pt, cred] table[x=t,y=r]{\toptab}; \addlegendentry{650nm}
\addplot[only marks, mark=*, mark size=4.3pt, mark options={fill=cirf, draw=cirf, line width=0.3pt}] table[x=x,y=y]{\irftop}; \addlegendentry{IRF}
\addplot[forget plot, only marks, mark=*, mark size=1.2pt, mark options={fill=cirfhi, draw=none}] table[x=x,y=y]{\irftop};
\node[font=\fontsize{33}{36}\selectfont] at (axis cs:6.55,0.478) {Toluene};
\node[font=\fontsize{33}{36}\selectfont] at (axis cs:14.43,7.7e-3) {(a)};
\draw[-{Latex[length=13pt,width=8pt]}, line width=1pt] (axis cs:4.3,1.06e-2) -- (axis cs:5.78,7.7e-2);
\end{axis}

\begin{axis}[
  scale only axis, width=642pt, height=326pt,
  at={(0pt,0pt)}, anchor=south west,
  xmin=-1, xmax=15, ymode=log, ymin=2.05e-4, ymax=2.15,
  axis line style={line width=2pt},
  tick style={line width=1.8pt, black},
  major tick length=13pt, minor tick length=7pt,
  tick align=outside, xtick pos=bottom, ytick pos=left,
  xtick={0,2,...,14}, minor xtick={-1,1,...,15},
  ytick={1e-3,1e-2,1e-1,1}, yticklabels={1E-3,0.01,0.1,1},
  tick label style={font=\fontsize{26}{28}\selectfont},
  /pgf/number format/assume math mode=true,
  clip marker paths=true,
  ylabel={Intensity},
  ylabel style={font=\fontsize{33}{36}\selectfont, at={(axis description cs:-0.175,0.59)}, anchor=center},
  xlabel={Time (ns)},
  xlabel style={font=\fontsize{33}{36}\selectfont, at={(axis description cs:0.503,-0.248)}, anchor=center},
  legend cell align=left, legend columns=2,
  legend style={at={(0.548,0.9396)}, anchor=north west, draw=none, fill=none, inner sep=0pt, row sep=11.5pt,
    font=\fontsize{24.5}{26}\selectfont,
    nodes={inner sep=0pt, text height=18pt, text depth=0pt},
    column sep=7pt},
]
\addplot[line width=1.1pt, cblue] table[x=t,y=b]{\bottab}; \addlegendentry{530nm}
\addplot[line width=1.1pt, cgreen] table[x=t,y=g]{\bottab}; \addlegendentry{560nm}
\addplot[line width=1.1pt, colive] table[x=t,y=o]{\bottab}; \addlegendentry{600nm}
\addplot[line width=1.1pt, corange] table[x=t,y=y]{\bottab}; \addlegendentry{640nm}
\addplot[line width=1.1pt, cred] table[x=t,y=r]{\bottab}; \addlegendentry{680nm}
\addplot[only marks, mark=*, mark size=4.3pt, mark options={fill=cirf, draw=cirf, line width=0.3pt}] table[x=x,y=y]{\irfbot}; \addlegendentry{IRF}
\addplot[forget plot, only marks, mark=*, mark size=1.2pt, mark options={fill=cirfhi, draw=none}] table[x=x,y=y]{\irfbot};
\node[font=\fontsize{33}{36}\selectfont] at (axis cs:5.125,0.774) {Acetonitrile};
\node[font=\fontsize{33}{36}\selectfont] at (axis cs:14.4,5.66e-2) {(b)};
\draw[-{Latex[length=13pt,width=8pt]}, line width=1pt] (axis cs:2.85,0.438) -- (axis cs:1.98,7.1e-2);
\end{axis}
\end{tikzpicture}
\end{document}
